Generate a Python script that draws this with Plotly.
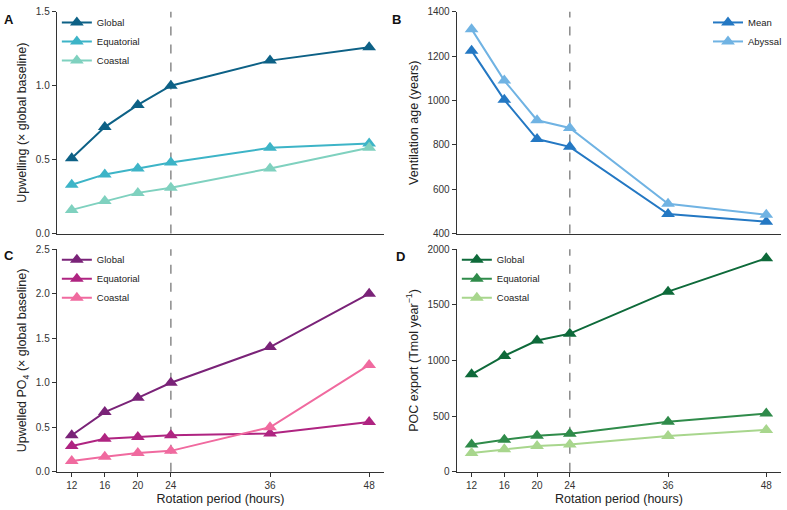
import plotly.graph_objects as go

periods = [12, 16, 20, 24, 36, 48]

# Panel A: upwelling
upw_global = [0.51, 0.72, 0.87, 1.00, 1.17, 1.26]
upw_equatorial = [0.33, 0.40, 0.44, 0.48, 0.58, 0.61]
upw_coastal = [0.16, 0.22, 0.275, 0.31, 0.44, 0.58]

# Panel B: ventilation age
vent_mean = [1225, 1003, 826, 791, 488, 453]
vent_abyssal = [1322, 1090, 911, 876, 534, 485]

# Panel C: upwelled PO4
po4_global = [0.41, 0.67, 0.83, 1.00, 1.40, 2.00]
po4_equatorial = [0.29, 0.37, 0.39, 0.41, 0.43, 0.56]
po4_coastal = [0.12, 0.17, 0.21, 0.235, 0.50, 1.20]

# Panel D: POC export
poc_global = [876, 1041, 1179, 1241, 1618, 1918]
poc_equatorial = [244, 288, 324, 341, 450, 524]
poc_coastal = [168, 203, 232, 244, 321, 376]

FONT = "Liberation Sans, Arial, Helvetica, sans-serif"
AXC = "#333333"

fig = go.Figure()

def add(x, y, name, color, xa, ya, legend):
    fig.add_trace(go.Scatter(
        x=x, y=y, name=name, mode="lines+markers",
        line=dict(color=color, width=2),
        marker=dict(symbol="triangle-up", size=12, color=color),
        xaxis=xa, yaxis=ya, legend=legend))

add(periods, upw_global, "Global", "#0d6186", "x", "y", "legend")
add(periods, upw_equatorial, "Equatorial", "#3db4c7", "x", "y", "legend")
add(periods, upw_coastal, "Coastal", "#7fd1bf", "x", "y", "legend")

add(periods, vent_mean, "Mean", "#2478c3", "x2", "y2", "legend2")
add(periods, vent_abyssal, "Abyssal", "#70b3e3", "x2", "y2", "legend2")

add(periods, po4_global, "Global", "#7a2378", "x3", "y3", "legend3")
add(periods, po4_equatorial, "Equatorial", "#af2481", "x3", "y3", "legend3")
add(periods, po4_coastal, "Coastal", "#f06a9f", "x3", "y3", "legend3")

add(periods, poc_global, "Global", "#0e6a3a", "x4", "y4", "legend4")
add(periods, poc_equatorial, "Equatorial", "#2f8b4a", "x4", "y4", "legend4")
add(periods, poc_coastal, "Coastal", "#a8d68d", "x4", "y4", "legend4")

W, H = 787, 510
def px(v): return v / W
def py(v): return 1 - v / H

xdomL = [px(57), px(385)]
xdomR = [px(458), px(783)]
ydomT = [py(233), py(6)]
ydomB = [py(477), py(249)]

tickfont = dict(family=FONT, size=10, color=AXC)
titlefont = dict(family=FONT, size=12.5, color="#222")

def xaxis(dom, anchor, labels):
    d = dict(domain=dom, anchor=anchor, range=[10.2, 49.8],
             showline=True, linecolor=AXC, linewidth=1.3,
             showgrid=False, zeroline=False, tickfont=tickfont)
    if labels:
        d.update(tickvals=periods, ticktext=[str(p) for p in periods],
                 ticks="outside", ticklen=4, tickcolor=AXC, tickwidth=1.2,
                 title=dict(text="Rotation period (hours)", font=titlefont, standoff=4))
    else:
        d.update(showticklabels=False, ticks="")
    return d

def yaxis(dom, anchor, rng, dtick, fmt, title):
    return dict(domain=dom, anchor=anchor, range=rng, dtick=dtick, tick0=0,
                tickformat=fmt, showline=True, linecolor=AXC, linewidth=1.3,
                showgrid=False, zeroline=False, ticks="outside", ticklen=4,
                tickcolor=AXC, tickwidth=1.2, tickfont=tickfont,
                title=dict(text=title, font=titlefont, standoff=6))

legfont = dict(family=FONT, size=9.5, color="#222")
def leg(x, y, xanchor="left"):
    return dict(x=x, y=y, xanchor=xanchor, yanchor="top", font=legfont,
                bgcolor="rgba(0,0,0,0)", tracegroupgap=0, itemwidth=30)

fig.update_layout(
    width=W, height=H, margin=dict(l=0, r=0, t=0, b=0),
    paper_bgcolor="white", plot_bgcolor="white",
    font=dict(family=FONT),
    xaxis=xaxis(xdomL, "y", False),
    yaxis=yaxis(ydomT, "x", [0, 1.5], 0.5, ".1f", "Upwelling (× global baseline)"),
    xaxis2=xaxis(xdomR, "y2", False),
    yaxis2=yaxis(ydomT, "x2", [400, 1400], 200, "d", "Ventilation age (years)"),
    xaxis3=xaxis(xdomL, "y3", True),
    yaxis3=yaxis(ydomB, "x3", [0, 2.5], 0.5, ".1f", "Upwelled PO<sub>4</sub> (× global baseline)"),
    xaxis4=xaxis(xdomR, "y4", True),
    yaxis4=yaxis(ydomB, "x4", [0, 2000], 500, "d", "POC export (Tmol year<sup>−1</sup>)"),
    legend=leg(px(57), py(2)),
    legend2=leg(px(789), py(2), "right"),
    legend3=leg(px(57), py(245)),
    legend4=leg(px(458), py(245)),
)

for xr, yr in [("x", "y"), ("x2", "y2"), ("x3", "y3"), ("x4", "y4")]:
    fig.add_shape(type="line", x0=24, x1=24, y0=0, y1=1, xref=xr, yref=yr + " domain",
                  line=dict(color="#8a8a8a", width=1.5, dash="dash"), layer="below")

for lab, x, y in [("A", 2, 14), ("B", 391, 14), ("C", 2, 255), ("D", 395, 257)]:
    fig.add_annotation(text="<b>" + lab + "</b>", x=px(x), y=py(y), xref="paper", yref="paper",
                       xanchor="left", yanchor="middle", showarrow=False,
                       font=dict(family=FONT, size=13, color="#111"))

fig.write_html("out.html")
